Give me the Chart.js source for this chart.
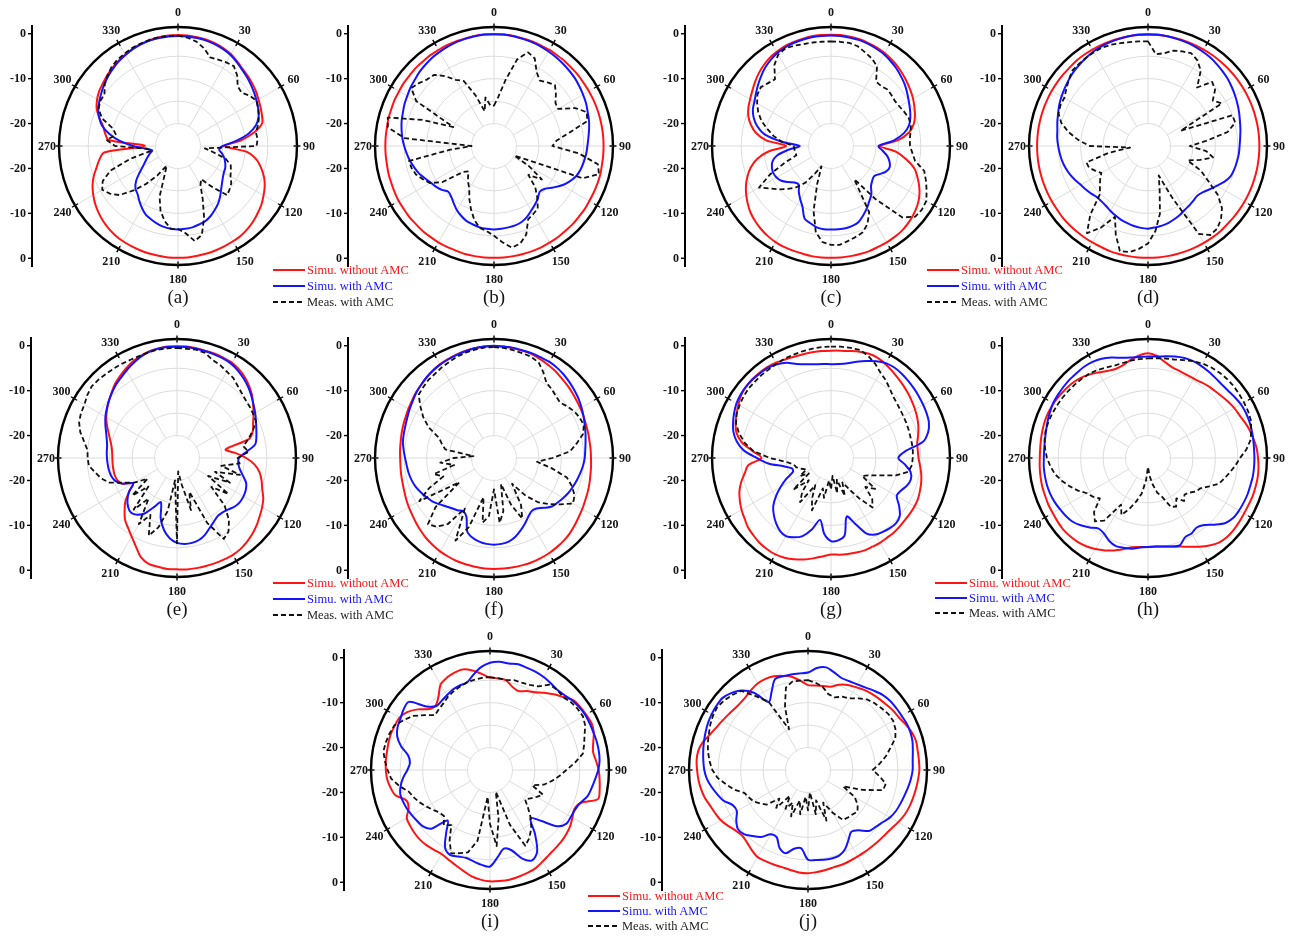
<!DOCTYPE html>
<html>
<head>
<meta charset="utf-8">
<title>Radiation patterns with and without AMC</title>
<script src="https://cdn.jsdelivr.net/npm/chart.js@4.4.1/dist/chart.umd.min.js"></script>
<style>
  html, body { margin: 0; padding: 0; background: #fff; }
  body { width: 1296px; height: 936px; position: relative; overflow: hidden;
         font-family: "Liberation Serif", "Times New Roman", serif; }
  canvas.polar { position: absolute; }
  .cap { position: absolute; font-size: 19px; color: #151515; transform: translate(-50%, -50%); white-space: nowrap; }
  .legend { position: absolute; font-size: 12.5px; }
  .legend .row { display: flex; align-items: center; white-space: nowrap; }
  .legend svg { margin-right: 2px; }
</style>
</head>
<body>
<script>
// ---- angular categories (deg) and axis tick labels ----
const angles = [0,5,10,15,20,25,30,35,40,45,50,55,60,65,70,75,80,85,
  90,95,100,105,110,115,120,125,130,135,140,145,150,155,160,165,170,175,
  180,185,190,195,200,205,210,215,220,225,230,235,240,245,250,255,260,265,
  270,275,280,285,290,295,300,305,310,315,320,325,330,335,340,345,350,355];
const angleTicks = [0,30,60,90,120,150,180,210,240,270,300,330];
const radialTicks = [0,-10,-20];
const gridRings = [-25,-20,-15,-10,-5,1.5];
const dbMin = -25, dbMax = 1.5;
const seriesNames = ['Simu. without AMC', 'Simu. with AMC', 'Meas. with AMC'];

// ---- gain patterns in dB, one value per 5 deg (rows of 30 deg) ----
const aNoAmc = [-0.3,-0.3,-0.4,-0.5,-0.7,-1.0, -1.4,-2.0,-2.6,-3.0,-3.4,-3.8, -4.3,-4.7,-5.1,-5.6,-7.8,-11,
  -14.6,-9.5,-7.2,-5.8,-4.6,-3.7, -3.0,-2.3,-1.8,-1.3,-0.9,-0.6, -0.5,-0.4,-0.3,-0.2,-0.2,-0.1,
  -0.1,-0.1,-0.2,-0.2,-0.3,-0.4, -0.5,-0.7,-1.0,-1.4,-1.9,-2.5, -3.2,-4.0,-5.0,-6.2,-7.2,-8.5,
  -17.6,-9.5,-8.5,-7.7,-6.3,-5.0, -4.2,-3.6,-3.2,-2.7,-2.3,-1.9, -1.5,-1.1,-0.8,-0.6,-0.4,-0.3];
const aAmc = [-0.5,-0.5,-0.6,-0.7,-0.9,-1.2, -1.6,-2.2,-2.8,-3.3,-3.8,-4.3, -4.8,-5.3,-5.9,-7.0,-9.0,-12,
  -15,-15.8,-15,-14.3,-13.8,-13.4, -13.2,-12.8,-12.2,-11.4,-10.4,-9.4, -8.6,-7.8,-7.2,-6.9,-6.6,-6.5,
  -6.4,-6.5,-6.7,-7.1,-7.6,-8.1, -9.0,-10.0,-11.0,-11.6,-12.8,-14.5, -16.0,-17.0,-17.8,-18.5,-19.2,-18,
  -15,-12,-9.5,-7.5,-6.3,-5.4, -4.8,-4.2,-3.6,-3.0,-2.5,-2.0, -1.6,-1.2,-0.9,-0.7,-0.6,-0.5];
const aMeas = [-0.4,-0.8,-1.4,-2.5,-4.0,-3.8, -3.5,-3.3,-4.5,-6.2,-6.5,-5.5, -4.8,-5.3,-5.8,-6.5,-7.4,-7.2,
  -7.5,-19,-17,-14,-12.5,-12, -11.5,-10.5,-10,-9.5,-13,-16, -15,-12,-8,-4.5,-3.5,-5.5,
  -6.5,-6.5,-8,-10,-13,-18, -20,-17,-14,-11,-8,-6.5, -5.5,-6.5,-9,-14,-19,-18,
  -11,-9,-11,-10,-7,-5.5, -5,-5,-3.7,-2.8,-2.0,-1.5, -1.2,-0.9,-0.7,-0.5,-0.4,-0.4];

const bNoAmc = [-0.1,-0.1,-0.1,-0.2,-0.2,-0.3, -0.3,-0.4,-0.4,-0.5,-0.5,-0.6, -0.6,-0.6,-0.6,-0.6,-0.6,-0.6,
  -0.6,-0.6,-0.6,-0.5,-0.5,-0.5, -0.5,-0.4,-0.4,-0.3,-0.3,-0.2, -0.2,-0.1,-0.1,-0.1,-0.1,-0.1,
  -0.1,-0.1,-0.1,-0.1,-0.2,-0.2, -0.2,-0.3,-0.3,-0.4,-0.4,-0.5, -0.5,-0.6,-0.7,-0.7,-0.8,-0.8,
  -0.8,-0.8,-0.8,-0.7,-0.7,-0.6, -0.6,-0.5,-0.5,-0.4,-0.4,-0.3, -0.3,-0.2,-0.2,-0.2,-0.1,-0.1];
const bAmc = [-0.1,-0.1,-0.2,-0.3,-0.4,-0.5, -0.7,-0.9,-1.1,-1.3,-1.5,-1.8, -2.1,-2.4,-2.8,-3.1,-3.5,-3.9,
  -4.2,-4.4,-4.7,-5.0,-5.5,-6.4, -7.5,-8.9,-10.2,-10.6,-9.8,-9.1, -8.4,-7.6,-7.0,-6.7,-6.6,-6.5,
  -6.4,-6.5,-6.6,-6.9,-7.2,-7.8, -8.5,-9.4,-10.2,-10.6,-9.8,-9.2, -8.7,-8.0,-7.2,-6.6,-6.0,-5.5,
  -5.0,-4.5,-4.1,-3.7,-3.4,-3.0, -2.7,-2.3,-2.0,-1.6,-1.3,-1.0, -0.8,-0.6,-0.4,-0.3,-0.2,-0.1];
const bMeas = [-16,-14,-10,-5,-2.8,-3.5, -6,-7.2,-6.5,-5.8,-7,-8.3, -8.5,-5,-3,-3.5,-8,-11,
  -12,-6,-1.5,-0.8,-4,-20, -16,-12,-15,-12,-10,-8, -7.5,-7,-4,-2.5,-2,-3.5,
  -5,-6,-6.5,-8,-10,-12, -14,-15,-16,-17,-16,-11, -8.5,-7.5,-6.5,-6,-5.8,-15,
  -20,-5,-1,-0.5,-8,-15, -5,-2.5,-3.2,-4,-4.3,-6, -8,-9,-13,-17,-14,-16];

const cNoAmc = [-0.2,-0.2,-0.3,-0.4,-0.6,-0.8, -1.1,-1.5,-1.9,-2.4,-2.9,-3.4, -3.9,-4.5,-5.1,-5.9,-7.3,-10,
  -14,-10.5,-8,-5.8,-4.5,-3.3, -2.3,-1.6,-1.1,-0.7,-0.4,-0.3, -0.2,-0.2,-0.1,-0.1,-0.1,-0.1,
  -0.1,-0.1,-0.1,-0.2,-0.2,-0.2, -0.3,-0.5,-0.8,-1.2,-1.7,-2.4, -3.2,-4.1,-5.2,-6.5,-8.3,-11,
  -15,-10.5,-8,-6.5,-5.4,-4.7, -4.2,-3.6,-2.9,-2.2,-1.6,-1.1, -0.8,-0.5,-0.4,-0.3,-0.2,-0.2];
const cAmc = [-0.4,-0.4,-0.5,-0.6,-0.8,-1.1, -1.4,-1.9,-2.4,-3.0,-3.6,-4.3, -5.0,-5.6,-6.2,-7.0,-8.5,-11,
  -14.4,-13.5,-12.3,-11.5,-11.1,-11.5, -12.5,-13.3,-13,-12.4,-11,-10.1, -9.0,-8.0,-7.0,-6.6,-6.4,-6.4,
  -6.4,-6.4,-6.6,-7.2,-7.8,-10, -11.3,-12.5,-13.8,-13.5,-12.5,-11.5, -11,-10.8,-11,-11.5,-12.8,-15.5,
  -18,-14,-10,-8,-6.7,-5.8, -5.3,-4.6,-3.8,-3.0,-2.2,-1.6, -1.1,-0.8,-0.6,-0.5,-0.4,-0.4];
const cMeas = [-1.7,-1.7,-1.7,-2,-2.8,-3.5, -4.5,-7.5,-7.6,-7.2,-7.4,-7.6, -7.4,-7,-6.6,-6.6,-7,-7.4,
  -7.4,-6.8,-6,-3.5,-2.5,-1.5, -0.5,-0.3,-0.5,-2.5,-9.5,-16, -8,-5.8,-4.5,-4,-3.5,-2.9,
  -3,-3.5,-5.5,-10,-16,-20, -18,-15,-13,-11.5,-10,-8.5, -6.5,-10,-14,-17,-17,-16.8,
  -16.7,-14,-12,-10.3,-8.5,-7.1, -6,-5,-4.6,-5.2,-5.6,-3, -1.5,-1,-1.2,-1.5,-1.6,-1.7];

const dNoAmc = [-0.2,-0.2,-0.2,-0.2,-0.2,-0.2, -0.2,-0.2,-0.2,-0.2,-0.2,-0.2, -0.2,-0.2,-0.2,-0.2,-0.2,-0.2,
  -0.2,-0.2,-0.2,-0.2,-0.2,-0.2, -0.2,-0.2,-0.2,-0.2,-0.1,-0.1, -0.1,-0.1,-0.1,-0.1,-0.1,-0.1,
  -0.1,-0.1,-0.1,-0.1,-0.1,-0.2, -0.2,-0.2,-0.2,-0.2,-0.2,-0.3, -0.3,-0.3,-0.3,-0.3,-0.3,-0.3,
  -0.3,-0.3,-0.3,-0.3,-0.3,-0.3, -0.3,-0.3,-0.3,-0.3,-0.2,-0.2, -0.2,-0.2,-0.2,-0.2,-0.2,-0.2];
const dAmc = [-0.1,-0.1,-0.2,-0.3,-0.4,-0.5, -0.7,-0.9,-1.2,-1.5,-1.8,-2.2, -2.6,-3.0,-3.4,-3.8,-4.1,-4.4,
  -4.6,-4.7,-4.9,-5.1,-5.4,-6.2, -7.3,-8.2,-9.0,-9.4,-9.2,-8.9, -8.6,-8.1,-7.7,-7.3,-7.0,-6.8,
  -6.6,-6.7,-6.9,-7.2,-7.5,-7.9, -8.3,-8.7,-8.9,-8.9,-8.5,-8.1, -7.7,-7.1,-6.5,-6.0,-5.6,-5.3,
  -5.0,-4.7,-4.5,-4.1,-3.7,-3.2, -2.8,-2.4,-2.0,-1.6,-1.3,-1.0, -0.7,-0.5,-0.4,-0.3,-0.2,-0.1];
const dMeas = [-1.7,-4.5,-4,-3,-2.6,-2.2, -3,-4.5,-8,-4.8,-5.5,-7.4, -6,-17,-5,-4.9,-7,-12,
  -15.7,-12,-10.3,-13,-15.6,-12, -9.6,-6,-3.5,-2,-1,-0.8, -2.4,-12.4,-18,-15,-9.7,-6,
  -3.3,-2,-1,-0.8,-4,-7.6, -4,-1.3,-5,-9.9,-11,-12, -13,-12,-11,-10.8,-16,-21,
  -12,-9.4,-7,-5,-3.8,-3.5, -3.5,-2.8,-2,-1.2,-1.1,-1, -0.9,-0.8,-1,-1.3,-1.5,-1.6];

const eNoAmc = [-0.1,-0.1,-0.2,-0.3,-0.3,-0.4, -0.5,-0.9,-1.5,-2.3,-3.2,-4.3, -5.3,-6.3,-7,-8.3,-14,-12,
  -9.6,-7.6,-6.3,-5.5,-4.8,-3.8, -3.1,-2.5,-1.8,-1.2,-0.7,-0.3, -0.1,-0.1,-0.1,-0.1,-0.1,-0.1,
  -0.2,-0.2,-0.4,-0.6,-1.5,-3.3, -4.8,-6,-7,-8.5,-10,-12, -13.7,-11.5,-10.8,-10.6,-10.6,-10.6,
  -10.6,-10.5,-10.2,-9.6,-8.8,-7.8, -6.8,-6.0,-5.2,-4.4,-3.5,-2.8, -2.1,-1.4,-0.9,-0.5,-0.3,-0.1];
const eAmc = [-0.2,-0.2,-0.3,-0.4,-0.5,-0.6, -0.8,-1.3,-1.9,-2.6,-3.4,-4.2, -4.9,-5.6,-6.2,-6.7,-7.3,-9.5,
  -11.2,-11.3,-10.8,-9.8,-8.6,-8.1, -7.9,-7.9,-8.2,-8.8,-9.2,-9.2, -8.6,-7.8,-6.8,-6.1,-5.8,-5.8,
  -6.1,-7,-8.6,-11,-14.5,-13, -10.8,-9.6,-9.1,-9.6,-10.6,-12, -13.7,-11.5,-10.3,-9.8,-9.6,-9.5,
  -9.4,-9.3,-9.2,-8.8,-8.2,-7.4, -6.6,-5.9,-5.2,-4.5,-3.8,-3.2, -2.5,-1.8,-1.1,-0.6,-0.3,-0.2];
const eMeas = [-0.5,-0.6,-0.5,-0.8,-1.8,-2.2, -2.8,-3.2,-4,-4.6,-5,-5.2, -5.4,-5.6,-7,-8.5,-10,-9,
  -11.5,-11,-15,-10.5,-16,-12, -17,-11,-15,-10,-7,-5, -4.2,-9,-17,-13,-19,-22,
  -6,-20,-13,-9,-6.6,-11, -8,-14,-10,-16,-12,-17, -14,-12,-9,-7.5,-6.5,-5.3,
  -5.1,-5,-4,-2.7,-1.8,-1.4, -1.2,-0.6,-0.2,-0.3,-0.5,-0.6, -0.7,-0.8,-0.8,-0.6,-0.5,-0.5];

const fNoAmc = [-0.1,-0.1,-0.2,-0.3,-0.4,-0.7, -1.0,-1.3,-1.7,-2.0,-2.3,-2.6, -2.8,-3.0,-3.2,-3.3,-3.4,-3.4,
  -3.4,-3.3,-3.2,-3.0,-2.8,-2.6, -2.3,-2.0,-1.6,-1.2,-0.9,-0.7, -0.5,-0.4,-0.3,-0.3,-0.3,-0.3,
  -0.3,-0.3,-0.4,-0.5,-0.6,-0.8, -1.0,-1.3,-1.6,-2.0,-2.4,-2.8, -3.1,-3.4,-3.7,-3.9,-4.0,-4.1,
  -4.1,-4.0,-3.9,-3.7,-3.5,-3.3, -3.0,-2.7,-2.3,-2.0,-1.6,-1.2, -0.9,-0.7,-0.5,-0.3,-0.2,-0.1];
const fAmc = [0,-0.1,-0.1,-0.2,-0.2,-0.3, -0.3,-0.5,-0.8,-1.2,-1.6,-2.0, -2.5,-3.0,-3.5,-3.9,-4.3,-4.6,
  -4.8,-5.1,-5.5,-5.9,-6.3,-6.7, -7.2,-7.7,-8.2,-9.3,-10.3,-10.5, -9.8,-8.8,-7.8,-6.8,-6.1,-5.8,
  -5.7,-5.8,-6.1,-6.6,-7.6,-10.5, -11.3,-10.8,-10.4,-9.8,-9.0,-8.2, -7.6,-7.0,-6.4,-6.0,-5.7,-5.5,
  -5.2,-4.8,-4.4,-4.2,-4.0,-3.7, -3.3,-2.9,-2.4,-2.0,-1.6,-1.3, -1.0,-0.8,-0.6,-0.4,-0.2,-0.1];
const fMeas = [-0.3,-0.4,-0.6,-0.8,-1.0,-1.5, -3,-4.6,-5,-5.5,-5.8,-5, -4.3,-3.9,-3.7,-4.5,-6.3,-8,
  -12,-15.4,-12,-8.2,-6.5,-5.2, -4.7,-7,-9,-11,-14,-18, -13,-10.1,-14,-19,-13,-10.5,
  -18,-12,-10.4,-16,-8.6,-4.7, -12,-7,-5,-4.2,-8,-15.6, -5.8,-9,-13,-11.1,-16,-13,
  -16,-20.4,-14,-13,-12,-9, -6.8,-5,-3.1,-2.7,-2.3,-2.1, -1.7,-1.4,-1,-0.7,-0.5,-0.3];

const gNoAmc = [-1.1,-1.0,-0.8,-0.5,-0.3,-0.4, -0.8,-1.3,-1.8,-2.2,-2.6,-3, -3.4,-3.8,-4.3,-4.9,-5.5,-5.6,
  -5.5,-5.1,-4.6,-4.2,-3.9,-3.6, -3.5,-3.5,-3.5,-3.4,-3.3,-3.3, -3.2,-3.2,-3.1,-3.2,-3.3,-3.4,
  -3.5,-3,-2.3,-1.6,-1.0,-0.5, -0.2,-0.2,-0.3,-0.6,-0.9,-1.5, -2.0,-2.6,-3.3,-4.3,-5.5,-6.5,
  -9.5,-7.5,-4.8,-3.2,-2.4,-1.8, -1.2,-0.6,-0.3,-0.2,-0.2,-0.3, -0.5,-0.8,-1.0,-1.1,-1.1,-1.1];
const gAmc = [-4.1,-4.0,-3.6,-2.8,-2.0,-1.2, -0.6,-0.4,-0.5,-0.7,-0.9,-1.1, -1.3,-1.5,-1.8,-2.6,-4.2,-8.5,
  -10,-8.5,-7,-6.6,-7,-7.8, -8.1,-6.5,-5,-4.5,-4.6,-4.9, -5.3,-6.5,-9.5,-11.5,-7.5,-6.6,
  -6.5,-8,-11,-8.5,-6.5,-5.5, -4.9,-5.2,-6,-7,-8.2,-10, -12,-14,-16,-16,-14.3,-11,
  -8.5,-5.5,-3.7,-2.5,-1.8,-1.2, -0.7,-0.4,-0.3,-0.3,-0.4,-0.5, -0.9,-1.6,-2.7,-3.4,-3.8,-4.0];
const gMeas = [-0.2,-0.1,-0.1,-0.1,-0.8,-1.8, -3,-3.8,-4.7,-5.5,-5.9,-6.2, -6.4,-6.5,-6.6,-6.7,-6.7,-6.7,
  -6.8,-6.9,-7.5,-10,-13.7,-15.9, -17,-13,-15,-12,-10.6,-14, -17,-19,-16,-20,-17,-21,
  -18,-20,-16,-18,-12.6,-15, -18,-13,-15,-18,-14,-19, -17,-19,-18,-17,-16.6,-15,
  -11.4,-7.7,-5.5,-3.8,-2.5,-1.8, -1.5,-1.2,-1,-1,-0.9,-0.9, -0.8,-0.6,-0.5,-0.4,-0.3,-0.2];

const hNoAmc = [-1.7,-2.2,-3.3,-4.1,-4.4,-4.6, -4.6,-4.4,-4.1,-3.9,-3.6,-3.2, -2.8,-2.5,-2,-1.5,-1.1,-0.7,
  -0.5,-0.3,-0.2,-0.2,-0.2,-0.3, -0.3,-0.2,-0.1,-0.1,-0.4,-1.2, -2.2,-3.2,-4,-4.6,-5,-5.2,
  -5.2,-5.1,-4.8,-4,-3.1,-2.3, -1.6,-1.0,-0.6,-0.4,-0.3,-0.4, -0.5,-0.5,-0.6,-0.6,-0.7,-0.8,
  -0.9,-0.9,-0.8,-0.7,-0.6,-0.6, -0.7,-0.9,-1.1,-1.3,-1.7,-2.3, -3,-3.6,-3.9,-3.6,-2.8,-2.1];
const hAmc = [-2.4,-2.3,-2,-1.6,-1.3,-1.2, -1.3,-1.5,-1.7,-1.8,-1.7,-1.4, -1.1,-1,-1,-1.1,-1.2,-1.3,
  -1.3,-1.3,-1.3,-1.4,-1.4,-1.5, -1.6,-1.8,-2.5,-4,-5.5,-6.1, -5.6,-5.5,-4.3,-4.6,-5,-5.2,
  -5.2,-5,-4.5,-4.3,-4.1,-4.6, -5.5,-5.8,-4.8,-3.8,-3,-2.6, -2.3,-2,-1.8,-1.7,-1.7,-1.7,
  -1.8,-1.8,-1.7,-1.5,-1.2,-0.9, -0.6,-0.5,-0.4,-0.3,-0.3,-0.2, -0.3,-0.6,-1.2,-1.9,-2.3,-2.4];
const hMeas = [-2.8,-2.7,-2.5,-2.3,-1.8,-1.2, -0.7,-0.4,-0.2,-0.1,-0.1,-0.2, -0.3,-0.4,-0.6,-1.2,-1.8,-3,
  -4.5,-5.5,-6.5,-7.4,-8.2,-10, -11.5,-12,-13,-13.5,-12.5,-14, -12.5,-13,-15.8,-17,-19,-21,
  -23,-20,-17,-15,-13,-11, -13,-8,-6.6,-8,-11,-10, -9.3,-7.8,-6.5,-5.2,-4,-3.2,
  -2.5,-2,-1.6,-1.4,-1.4,-1.5, -1.6,-1.7,-1.8,-1.9,-2,-2.1, -2.4,-2.8,-3.1,-3.1,-3,-2.9];

const iNoAmc = [-4.4,-4.5,-4.7,-5.8,-6.3,-5.6, -5,-4,-3,-2,-0.8,-0.5, -0.3,-0.1,-0.4,-1.2,-1.7,-1.3,
  -0.8,-0.5,-0.2,-0.1,-3.5,-4.3, -3.8,-3.2,-2.8,-2.5,-2.3,-2, -1.5,-0.9,-0.6,-0.4,-0.2,-0.2,
  -0.2,-0.5,-1,-1.8,-2.5,-3, -3.4,-3.3,-3.1,-3,-3.1,-3.3, -3.6,-5,-5.2,-3.2,-2.5,-2,
  -1.8,-1.7,-1.7,-1.6,-1.5,-1.6, -1.7,-2.5,-4,-5.8,-6.2,-5, -3,-2.3,-1.9,-1.8,-2.5,-3.5];
const iAmc = [-1.1,-0.8,-0.9,-0.6,-0.8,-0.9, -1.1,-1.4,-1.7,-1.5,-1.0,-0.7, -0.5,-0.5,-0.5,-0.4,-0.4,-0.5,
  -0.9,-1.5,-2,-2.5,-3.6,-4.1, -4.2,-4.2,-5.5,-9,-11,-7.5, -4,-2.8,-4,-6.5,-7.2,-5.5,
  -3.5,-3.8,-4.3,-4.7,-4.5,-4.1, -5,-8,-10.3,-6.5,-5.5,-5.2, -4.9,-4.6,-4.4,-4.3,-4.8,-5.6,
  -6.6,-7.1,-6.5,-4.5,-3,-2.3, -2,-1.5,-1.4,-5,-6.4,-6.2, -5.8,-5.3,-5,-4.9,-3.5,-2];
const iMeas = [-4.3,-4.5,-4.6,-4.3,-4.3,-4.1, -3.5,-1.8,-1.7,-2,-1.5,-1.2, -1.1,-1.6,-2.6,-3.3,-4,-6,
  -8,-9.5,-11,-12.5,-15,-12, -13,-14,-14.8,-13,-10.8,-9, -7.5,-6.4,-12,-20,-14,-8,
  -13,-19,-9,-6,-5.3,-4.5, -7,-10,-9,-10.5,-10.3,-9.5, -8.7,-7.8,-7,-6.3,-4.5,-2.9,
  -2.2,-1.5,-0.9,-1,-1.2,-1.5, -2.8,-4,-6,-7.7,-7.3,-6.9, -6.2,-5.7,-5.3,-4.8,-4.6,-4.4];

const jNoAmc = [-6.1,-6.1,-6,-5.8,-4.8,-4.1, -3.7,-3.2,-2.9,-2.6,-2.3,-1.9, -1.6,-1,-0.4,-0.1,-0.2,-0.2,
  -0.2,-0.4,-0.6,-0.8,-1,-1.3, -1.8,-2.3,-2.6,-2.7,-2.8,-2.8, -2.8,-2.7,-2.6,-2.6,-2.4,-2.2,
  -2,-2.1,-2.4,-2.6,-2.6,-2.6, -2.6,-3.2,-3.9,-4.3,-4,-3.3, -2.6,-2.2,-1.8,-1.2,-0.8,-0.5,
  -0.3,-0.1,-0.2,-0.8,-1.8,-2.5, -3,-3.4,-3.7,-3.8,-3.6,-3.1, -2.7,-2.6,-2.8,-3.3,-3.9,-5];
const jAmc = [-3.3,-2.2,-1.8,-2.5,-3.2,-3.2, -3,-2.6,-2,-1.4,-1.1,-1, -0.9,-0.7,-0.7,-0.9,-1.3,-1.6,
  -1.7,-2,-2.4,-2.8,-3.1,-3.4, -3.9,-4.7,-5.3,-5.8,-7.5,-8.2, -7,-5.5,-4.7,-4.6,-4.7,-4.9,
  -5,-7.5,-7.2,-5.8,-6.5,-8.5, -8.5,-6.8,-5.8,-4.8,-4.6,-5.5, -6.7,-6.5,-5,-4.1,-3.2,-2.4,
  -1.9,-1.6,-1.3,-1,-0.7,-0.4, -0.2,-0.1,-0.1,-0.8,-1.9,-4, -7.5,-5.8,-3.5,-3.4,-3.4,-3.4];
const jMeas = [-5,-5.5,-6.2,-7.5,-7.8,-7, -6.6,-5.5,-4.5,-4,-3.6,-3.2, -3.1,-3.5,-4.3,-6,-7.4,-9,
  -10.6,-9,-7.4,-7.7,-12,-16.4, -13,-11.5,-10.6,-11,-11.2,-11.4, -14,-17,-13,-18,-15,-20,
  -16,-19,-15,-18,-14,-17, -15,-18,-14,-16,-13,-12, -11,-10.5,-10,-8,-6.5,-4.8,
  -3.7,-3,-2.4,-1.9,-1.5,-1, -0.6,-0.4,-0.8,-1.3,-2,-5, -7.5,-15,-10,-6,-5,-5];

// ---- figure layout ----
const RED = '#ff1414', BLUE = '#1414ff', INK = '#111111';
const panels = [
  { tag: '(a)', cx: 178,  cy: 146, series: [aNoAmc, aAmc, aMeas] },
  { tag: '(b)', cx: 494,  cy: 146, series: [bNoAmc, bAmc, bMeas] },
  { tag: '(c)', cx: 831,  cy: 146, series: [cNoAmc, cAmc, cMeas] },
  { tag: '(d)', cx: 1148, cy: 146, series: [dNoAmc, dAmc, dMeas] },
  { tag: '(e)', cx: 177,  cy: 458, series: [eNoAmc, eAmc, eMeas] },
  { tag: '(f)', cx: 494,  cy: 458, series: [fNoAmc, fAmc, fMeas] },
  { tag: '(g)', cx: 831,  cy: 458, series: [gNoAmc, gAmc, gMeas] },
  { tag: '(h)', cx: 1148, cy: 458, series: [hNoAmc, hAmc, hMeas] },
  { tag: '(i)', cx: 490,  cy: 770, series: [iNoAmc, iAmc, iMeas] },
  { tag: '(j)', cx: 808,  cy: 770, series: [jNoAmc, jAmc, jMeas] }
];
const legendSpots = [
  { x: 273, y: 270, gap: 16 }, { x: 927, y: 270, gap: 16 },
  { x: 273, y: 583, gap: 16 }, { x: 935, y: 583, gap: 15 },
  { x: 588, y: 896, gap: 15 }
];

const CW = 340, CH = 300, PAD = { left: 71, right: 31, top: 31, bottom: 31 };
const XC = PAD.left + 119, YC = PAD.top + 119;

// frame ticks, angle labels, hollow core and the side dB axis
const polarFrame = {
  id: 'polarFrame',
  beforeDatasetsDraw(chart) {
    const s = chart.scales.r, ctx = chart.ctx;
    ctx.save();
    ctx.fillStyle = '#ffffff';
    ctx.beginPath();
    ctx.arc(s.xCenter, s.yCenter, s.getDistanceFromCenterForValue(-20) - 0.8, 0, Math.PI * 2);
    ctx.fill();
    ctx.restore();
  },
  afterDraw(chart) {
    const s = chart.scales.r, ctx = chart.ctx;
    const R = s.getDistanceFromCenterForValue(dbMax);
    ctx.save();
    ctx.strokeStyle = '#000';
    ctx.lineWidth = 1.4;
    angleTicks.forEach(a => {
      const i = angles.indexOf(a);
      const p1 = s.getPointPosition(i, R - 3.5);
      const p2 = s.getPointPosition(i, R + 3.5);
      ctx.beginPath(); ctx.moveTo(p1.x, p1.y); ctx.lineTo(p2.x, p2.y); ctx.stroke();
    });
    ctx.font = 'bold 12px "Liberation Serif", "Times New Roman", serif';
    ctx.fillStyle = '#151515';
    ctx.textAlign = 'center';
    ctx.textBaseline = 'middle';
    angleTicks.forEach(a => {
      const i = angles.indexOf(a);
      const d = (a === 90 || a === 270) ? R + 12 : R + 14.5;
      const p = s.getPointPosition(i, d);
      ctx.fillText(String(a), p.x, p.y + 0.5);
    });
    // side axis mirrored around the centre
    const ax = s.xCenter - 146;
    ctx.lineWidth = 2;
    ctx.beginPath();
    ctx.moveTo(ax, s.yCenter - R - 2);
    ctx.lineTo(ax, s.yCenter + R + 2);
    ctx.stroke();
    ctx.textAlign = 'right';
    ctx.lineWidth = 1.4;
    radialTicks.forEach(v => {
      const d = s.getDistanceFromCenterForValue(v);
      [-1, 1].forEach(sg => {
        const y = s.yCenter + sg * d;
        ctx.beginPath(); ctx.moveTo(ax - 4, y); ctx.lineTo(ax, y); ctx.stroke();
        ctx.fillText(String(v), ax - 6, y + 0.5);
      });
    });
    ctx.restore();
  }
};

panels.forEach(p => {
  const cv = document.createElement('canvas');
  cv.className = 'polar';
  cv.width = CW; cv.height = CH;
  cv.style.left = (p.cx - XC) + 'px';
  cv.style.top = (p.cy - YC) + 'px';
  document.body.appendChild(cv);

  new Chart(cv, {
    type: 'radar',
    data: {
      labels: angles.map(String),
      datasets: [
        { label: seriesNames[0], data: p.series[0], borderColor: RED, borderWidth: 2, tension: 0.3, order: 2 },
        { label: seriesNames[1], data: p.series[1], borderColor: BLUE, borderWidth: 2, tension: 0.3, order: 1 },
        { label: seriesNames[2], data: p.series[2], borderColor: INK, borderWidth: 1.8, borderDash: [5, 3],
          borderJoinStyle: 'round', tension: 0, order: 0 }
      ]
    },
    options: {
      responsive: false,
      animation: false,
      events: [],
      layout: { padding: PAD },
      elements: { point: { radius: 0 }, line: { fill: false } },
      plugins: { legend: { display: false }, tooltip: { enabled: false } },
      scales: {
        r: {
          min: dbMin,
          max: dbMax,
          afterBuildTicks: sc => { sc.ticks = gridRings.map(v => ({ value: v })); },
          ticks: { display: false },
          pointLabels: { display: false },
          grid: {
            circular: true,
            color: c => (c.tick && c.tick.value >= dbMax) ? '#000000' : '#dcdcdc',
            lineWidth: c => (c.tick && c.tick.value >= dbMax) ? 2.4 : 1
          },
          angleLines: {
            color: c => (angles[c.index] % 30 === 0) ? '#dcdcdc' : 'rgba(0,0,0,0)',
            lineWidth: 1
          }
        }
      }
    },
    plugins: [polarFrame]
  });

  const cap = document.createElement('div');
  cap.className = 'cap';
  cap.style.left = p.cx + 'px';
  cap.style.top = (p.cy + 151) + 'px';
  cap.textContent = p.tag;
  document.body.appendChild(cap);
});

// legends
const legendStyles = [
  { color: RED, text: RED, dash: '' },
  { color: BLUE, text: BLUE, dash: '' },
  { color: INK, text: '#222', dash: '5,3' }
];
legendSpots.forEach(L => {
  const box = document.createElement('div');
  box.className = 'legend';
  box.style.left = L.x + 'px';
  box.style.top = (L.y - L.gap / 2) + 'px';
  seriesNames.forEach((name, k) => {
    const st = legendStyles[k];
    const row = document.createElement('div');
    row.className = 'row';
    row.style.height = L.gap + 'px';
    row.style.color = st.text;
    row.innerHTML = '<svg width="32" height="4"><line x1="0" y1="2" x2="32" y2="2" stroke="' + st.color +
      '" stroke-width="2"' + (st.dash ? ' stroke-dasharray="' + st.dash + '"' : '') + '/></svg>';
    row.appendChild(document.createTextNode(name));
    box.appendChild(row);
  });
  document.body.appendChild(box);
});
</script>
</body>
</html>
